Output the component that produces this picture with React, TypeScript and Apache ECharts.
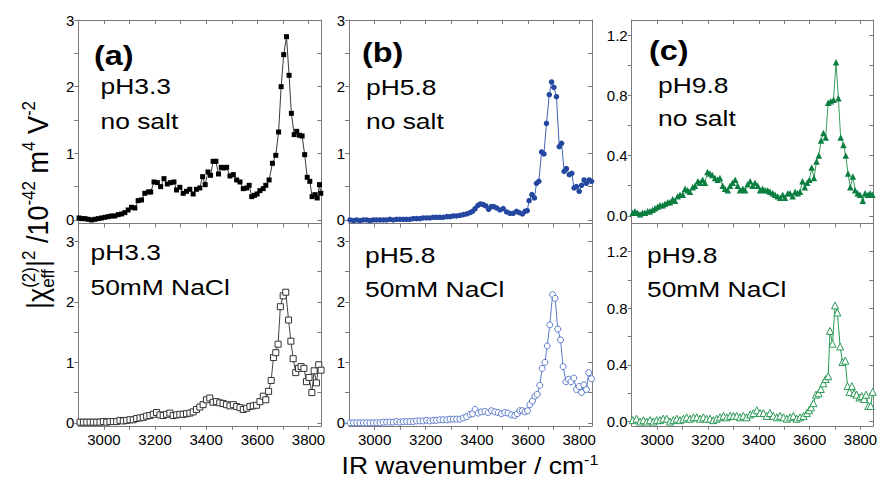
import React, { useEffect, useRef } from 'react';
import * as echarts from 'echarts';

const FONT = "'Liberation Sans', Arial, Helvetica, sans-serif";

// ---- tick values / labels ----
const X_TICKS = [3000, 3100, 3200, 3300, 3400, 3500, 3600, 3700, 3800];
const X_LABELS = [3000, 3200, 3400, 3600, 3800];
const Y_TICKS_AB = [0, 0.5, 1, 1.5, 2, 2.5, 3];
const Y_LABELS_AB = [0, 1, 2, 3];
const Y_TICKS_C = [0, 0.2, 0.4, 0.6, 0.8, 1.0, 1.2];
const Y_LABELS_C = [0, 0.4, 0.8, 1.2];

// ---- texts ----
const PANEL_TAGS = ['(a)', '(b)', '(c)'];
const PH_LABELS = ['pH3.3', 'pH5.8', 'pH9.8'];
const CONDITIONS = ['no salt', '50mM NaCl'];
const X_TITLE = 'IR wavenumber / cm';

// ---- data: (a) pH3.3 ----
const WN_A1 = [2903,2913,2926,2939,2952,2965,2978,2991,3004,3017,3030,3043,3056,3069,3082,3095,3108,3121,3134,3147,3160,3174,3183,3196,3209,3222,3235,3248,3261,3274,3284,3297,3310,3323,3336,3349,3362,3375,3386,3396,3407,3417,3427,3438,3448,3459,3469,3480,3493,3506,3519,3532,3545,3558,3568,3578,3589,3599,3610,3623,3633,3646,3659,3672,3683,3693,3703,3714,3724,3733,3744,3754,3765,3775,3785,3795,3805,3814,3825,3834,3843,3848];
const VAL_A1 = [0.03,0.02,0.02,0.01,0.00,0.01,0.02,0.03,0.04,0.05,0.06,0.06,0.08,0.09,0.11,0.15,0.19,0.18,0.29,0.30,0.40,0.42,0.42,0.57,0.56,0.50,0.62,0.54,0.56,0.57,0.45,0.49,0.40,0.43,0.46,0.39,0.46,0.48,0.65,0.53,0.72,0.67,0.88,0.88,0.69,0.79,0.78,0.79,0.66,0.68,0.60,0.57,0.47,0.48,0.52,0.35,0.37,0.39,0.44,0.47,0.52,0.60,0.85,0.97,1.32,2.00,2.48,2.75,2.17,1.60,1.28,1.33,1.27,1.26,0.98,0.64,0.58,0.35,0.38,0.33,0.53,0.40];
const WN_A2 = [2907,2920,2933,2946,2959,2972,2985,2998,3011,3024,3037,3050,3063,3076,3089,3102,3115,3128,3141,3154,3167,3180,3193,3206,3219,3232,3245,3258,3271,3284,3297,3310,3323,3336,3349,3362,3375,3388,3401,3414,3427,3440,3453,3466,3479,3493,3506,3519,3532,3545,3558,3571,3584,3597,3610,3623,3633,3644,3654,3663,3672,3681,3690,3701,3711,3722,3731,3740,3750,3761,3771,3782,3792,3802,3813,3822,3831,3840,3849];
const VAL_A2 = [0.01,0.01,0.01,0.01,0.01,0.01,0.01,0.02,0.01,0.02,0.02,0.02,0.04,0.03,0.04,0.05,0.05,0.07,0.08,0.09,0.11,0.12,0.14,0.17,0.13,0.12,0.14,0.16,0.12,0.13,0.14,0.14,0.15,0.16,0.18,0.22,0.26,0.30,0.38,0.41,0.34,0.35,0.33,0.32,0.30,0.28,0.30,0.27,0.25,0.22,0.24,0.27,0.28,0.29,0.35,0.44,0.38,0.52,0.70,1.08,1.16,1.30,1.92,2.10,2.16,1.70,1.35,1.06,0.83,0.90,0.93,0.90,0.68,0.75,0.50,0.86,0.66,0.96,0.87];

// ---- data: (b) pH5.8 ----
const WN_B1 = [2904,2917,2930,2943,2956,2969,2982,2995,3008,3021,3034,3047,3060,3073,3086,3099,3112,3125,3138,3151,3164,3177,3190,3203,3216,3229,3242,3255,3268,3282,3295,3308,3321,3334,3347,3360,3373,3383,3393,3404,3414,3425,3435,3446,3456,3466,3477,3490,3503,3516,3529,3542,3555,3565,3578,3588,3597,3604,3615,3625,3633,3642,3653,3662,3672,3683,3692,3701,3711,3722,3731,3741,3750,3761,3771,3780,3789,3800,3809,3819,3828,3839,3848];
const VAL_B1 = [0.00,-0.01,0.00,-0.01,0.00,0.00,-0.01,0.00,0.00,0.00,0.00,0.00,0.01,0.00,0.01,0.01,0.01,0.01,0.01,0.02,0.02,0.02,0.03,0.03,0.03,0.04,0.04,0.04,0.04,0.05,0.05,0.06,0.06,0.07,0.08,0.09,0.11,0.13,0.17,0.22,0.24,0.23,0.21,0.16,0.20,0.20,0.18,0.15,0.17,0.12,0.10,0.10,0.13,0.11,0.09,0.13,0.14,0.29,0.38,0.33,0.55,0.58,1.02,0.99,1.45,1.88,2.07,1.99,1.85,1.10,1.15,0.73,0.77,0.68,0.70,0.48,0.50,0.43,0.52,0.60,0.55,0.60,0.58];
const WN_B2 = [2904,2917,2930,2943,2956,2969,2982,2995,3008,3021,3034,3047,3060,3073,3086,3099,3112,3125,3138,3151,3164,3177,3190,3203,3216,3229,3242,3255,3268,3282,3295,3308,3321,3334,3347,3360,3373,3383,3393,3405,3418,3431,3444,3457,3470,3483,3496,3509,3522,3535,3548,3558,3568,3578,3588,3598,3607,3617,3627,3636,3646,3655,3666,3675,3685,3696,3706,3716,3727,3737,3748,3758,3768,3779,3789,3800,3809,3818,3828,3837,3848];
const VAL_B2 = [0,0,0,0,0,0,0,0,0,0,0.01,0.01,0.01,0.01,0.02,0.01,0.02,0.02,0.02,0.02,0.03,0.03,0.03,0.04,0.03,0.04,0.04,0.05,0.05,0.05,0.06,0.06,0.06,0.06,0.08,0.10,0.14,0.15,0.22,0.16,0.18,0.19,0.17,0.20,0.18,0.17,0.15,0.17,0.16,0.13,0.12,0.15,0.20,0.20,0.18,0.20,0.30,0.36,0.44,0.47,0.62,0.90,1.00,1.27,1.62,2.12,2.06,1.55,1.37,0.93,0.68,0.72,0.68,0.74,0.55,0.60,0.50,0.63,0.55,0.83,0.73];

// ---- data: (c) pH9.8 ----
const WN_C1 = [2904,2913,2923,2933,2943,2952,2963,2972,2982,2992,3002,3011,3022,3031,3042,3051,3061,3070,3081,3090,3101,3110,3120,3129,3140,3149,3160,3169,3179,3188,3198,3208,3217,3228,3238,3247,3258,3267,3278,3287,3297,3307,3317,3326,3337,3346,3356,3366,3376,3385,3396,3405,3415,3425,3435,3444,3455,3464,3474,3484,3494,3503,3514,3523,3533,3543,3553,3562,3572,3581,3590,3599,3608,3617,3627,3636,3645,3654,3663,3673,3683,3694,3704,3713,3722,3733,3742,3751,3760,3770,3779,3789,3798,3809,3818,3829,3838,3847];
const VAL_C1 = [0.02,0.03,0.02,0.01,0.02,0.02,0.03,0.03,0.04,0.05,0.06,0.07,0.07,0.08,0.09,0.09,0.11,0.10,0.13,0.14,0.14,0.18,0.17,0.16,0.19,0.20,0.23,0.22,0.24,0.22,0.29,0.28,0.27,0.25,0.24,0.25,0.20,0.18,0.17,0.20,0.22,0.24,0.20,0.17,0.18,0.17,0.21,0.23,0.20,0.22,0.20,0.17,0.18,0.17,0.17,0.16,0.15,0.14,0.13,0.12,0.14,0.12,0.15,0.15,0.13,0.16,0.15,0.16,0.23,0.19,0.22,0.24,0.32,0.25,0.36,0.40,0.50,0.55,0.52,0.75,0.76,0.77,1.02,0.78,0.52,0.47,0.40,0.28,0.19,0.26,0.17,0.15,0.14,0.10,0.15,0.14,0.15,0.14];
const WN_C2 = [2904,2919,2933,2946,2959,2972,2985,2998,3011,3024,3038,3051,3064,3077,3090,3103,3116,3129,3143,3156,3169,3182,3195,3208,3221,3234,3247,3261,3274,3287,3300,3313,3326,3339,3352,3366,3379,3392,3405,3418,3431,3444,3457,3471,3484,3497,3510,3523,3536,3549,3562,3576,3589,3598,3606,3615,3625,3635,3644,3654,3663,3673,3680,3690,3700,3709,3720,3729,3740,3749,3757,3766,3775,3785,3796,3805,3814,3822,3831,3840,3848];
const VAL_C2 = [0.01,0.02,0.00,0.01,0.00,0.01,0.00,0.01,0.01,0.02,0.02,0.00,0.01,0.02,0.01,0.02,0.03,0.02,0.03,0.03,0.02,0.03,0.02,0.02,0.01,0.02,0.03,0.04,0.03,0.04,0.04,0.04,0.03,0.04,0.03,0.05,0.06,0.08,0.06,0.06,0.04,0.06,0.04,0.03,0.04,0.03,0.02,0.03,0.04,0.02,0.03,0.04,0.06,0.08,0.10,0.13,0.19,0.20,0.23,0.27,0.30,0.32,0.64,0.55,0.82,0.77,0.53,0.42,0.43,0.25,0.21,0.25,0.20,0.19,0.17,0.18,0.16,0.19,0.11,0.11,0.21];

const SX = 1.2; // horizontal stretch of the original figure's text
const AXIS = '#7a7a7a';

const zip = (xs: number[], ys: number[]) => {
  const n = Math.min(xs.length, ys.length);
  const out: number[][] = [];
  for (let i = 0; i < n; i++) out.push([xs[i], ys[i]]);
  return out;
};

export default function App() {
  const ref = useRef<HTMLDivElement>(null);
  useEffect(() => {
    document.body.style.margin = '0';
    const chart = echarts.init(ref.current!, null, { renderer: 'svg' });

    const colLeft = [78.3, 349, 631.7];
    const colWidth = [243, 243, 241.5];
    const rowTop = [20, 223.3];
    const rowHeight = [203.3, 202.5];
    const yRanges = [
      [[-0.05, 3], [-0.05, 3.3]],
      [[-0.05, 3], [-0.05, 3.3]],
      [[-0.05, 1.3], [-0.03, 1.4]],
    ];
    const seriesDefs = [
      [
        { d: zip(WN_A1, VAL_A1), sym: 'rect', size: 5, fill: '#000', border: '#000', line: '#3a3a3a' },
        { d: zip(WN_A2, VAL_A2), sym: 'rect', size: 6, fill: '#fff', border: '#333', line: '#444' },
      ],
      [
        { d: zip(WN_B1, VAL_B1), sym: 'circle', size: 5.5, fill: '#2447a0', border: '#2447a0', line: '#4062b8' },
        { d: zip(WN_B2, VAL_B2), sym: 'circle', size: 6, fill: '#fff', border: '#5b7ccc', line: '#5b7ccc' },
      ],
      [
        { d: zip(WN_C1, VAL_C1), sym: 'triangle', size: 6.5, fill: '#0a7f3f', border: '#0a7f3f', line: '#3a9d60' },
        { d: zip(WN_C2, VAL_C2), sym: 'triangle', size: 7, fill: '#fff', border: '#2a9a55', line: '#2a9a55' },
      ],
    ];

    const grids: any[] = [];
    const xAxes: any[] = [];
    const yAxes: any[] = [];
    const series: any[] = [];
    const labelStyle = { color: '#000', fontSize: 15, fontFamily: FONT };

    for (let c = 0; c < 3; c++) {
      for (let r = 0; r < 2; r++) {
        const g = grids.length;
        grids.push({ left: colLeft[c], top: rowTop[r], width: colWidth[c], height: rowHeight[r], containLabel: false, outerBoundsMode: 'none' });
        const [ymin, ymax] = yRanges[c][r];
        const yTicks = c === 2 ? Y_TICKS_C : Y_TICKS_AB;
        const yLabels = c === 2 ? Y_LABELS_C : Y_LABELS_AB;
        const fmtY = (v: number) => (c === 2 ? v.toFixed(1) : String(Math.round(v)));
        const common = { gridIndex: g, type: 'value', splitLine: { show: false }, axisPointer: { show: false } };
        xAxes.push({
          ...common, min: 2900, max: 3850, position: 'bottom',
          axisLine: { show: true, onZero: false, lineStyle: { color: AXIS, width: 1 } },
          axisTick: { show: true, inside: false, length: 4, customValues: X_TICKS, lineStyle: { color: AXIS } },
          axisLabel: { show: r === 1, customValues: X_LABELS, formatter: (v: number) => String(Math.round(v)), margin: 6, ...labelStyle },
        });
        xAxes.push({
          ...common, min: 2900, max: 3850, position: 'top',
          axisLine: { show: true, onZero: false, lineStyle: { color: AXIS, width: 1 } },
          axisTick: { show: true, inside: true, length: 4, customValues: X_TICKS, lineStyle: { color: AXIS } },
          axisLabel: { show: false },
        });
        yAxes.push({
          ...common, min: ymin, max: ymax, position: 'left',
          axisLine: { show: true, onZero: false, lineStyle: { color: AXIS, width: 1 } },
          axisTick: { show: true, inside: false, length: 4, customValues: yTicks, lineStyle: { color: AXIS } },
          axisLabel: { show: true, customValues: yLabels, formatter: fmtY, margin: 4, ...labelStyle },
        });
        yAxes.push({
          ...common, min: ymin, max: ymax, position: 'right',
          axisLine: { show: true, onZero: false, lineStyle: { color: AXIS, width: 1 } },
          axisTick: { show: true, inside: true, length: 4, customValues: yTicks, lineStyle: { color: AXIS } },
          axisLabel: { show: false },
        });
        const s = seriesDefs[c][r];
        series.push({
          type: 'line', xAxisIndex: 2 * g, yAxisIndex: 2 * g, data: s.d,
          symbol: s.sym, symbolSize: s.size, showSymbol: true, clip: true, silent: true,
          lineStyle: { width: 1, color: s.line },
          itemStyle: { color: s.fill, borderColor: s.border, borderWidth: s.fill === '#fff' ? 1 : 0 },
          emphasis: { disabled: true },
        });
      }
    }

    // ---- panel texts ----
    const TXT_POS = [
      { tag: [94, 55], l1: [100.5, 86.7], l2: [100.5, 121], b1: [90.5, 252.6], b2: [90.5, 287.6] },
      { tag: [362, 52.5], l1: [366, 87.2], l2: [366, 121], b1: [365, 255.8], b2: [365, 289.2] },
      { tag: [649, 50], l1: [658, 85.8], l2: [658, 118.7], b1: [647, 255], b2: [647, 289.2] },
    ];
    const txt = (t: string, x: number, y: number, size: number, bold = false) => ({
      type: 'text', x, y, scaleX: SX, silent: true,
      style: { text: t, fontSize: size, fontWeight: bold ? 'bold' : 'normal', fontFamily: FONT, fill: '#000', align: 'left', verticalAlign: 'middle' },
    });
    const graphics: any[] = [];
    for (let c = 0; c < 3; c++) {
      const p = TXT_POS[c];
      graphics.push(txt(PANEL_TAGS[c], p.tag[0], p.tag[1], 27, true));
      graphics.push(txt(PH_LABELS[c], p.l1[0], p.l1[1], 22));
      graphics.push(txt(CONDITIONS[0], p.l2[0], p.l2[1], 22));
      graphics.push(txt(PH_LABELS[c], p.b1[0], p.b1[1], 22));
      graphics.push(txt(CONDITIONS[1], p.b2[0], p.b2[1], 22));
    }

    // ---- measuring helper ----
    const canvas = document.createElement('canvas');
    const ctx = canvas.getContext('2d')!;
    const measure = (t: string, size: number) => { ctx.font = `${size}px ${FONT}`; return ctx.measureText(t).width; };

    // ---- y title (rotated) ----
    {
      const S = 27, s = 17;
      const mainY = -0.35 * S;
      const supY = -0.42 * S - 0.35 * s;
      const subY = 0.2 * S - 0.35 * s;
      const items: { t: string; size: number; x: number; y: number }[] = [];
      let x = 0;
      const add = (t: string, size: number, y: number) => { items.push({ t, size, x, y }); x += measure(t, size); };
      add('|χ', S, mainY);
      items.push({ t: '(2)', size: s, x, y: supY });
      items.push({ t: 'eff', size: s, x, y: subY });
      x += Math.max(measure('(2)', s), measure('eff', s));
      add('|', S, mainY);
      add('2', s, supY);
      add(' /10', S, mainY);
      add('-42', s, supY);
      add(' m', S, mainY);
      add('4', s, supY);
      add(' V', S, mainY);
      add('-2', s, supY);
      const L = x;
      graphics.push({
        type: 'group', x: 48, y: 205, rotation: Math.PI / 2, scaleY: 1.1, silent: true,
        children: items.map((it) => ({
          type: 'text', x: it.x - L / 2, y: it.y,
          style: { text: it.t, fontSize: it.size, fontFamily: FONT, fill: '#000', align: 'left', verticalAlign: 'middle' },
        })),
      });
    }
    // ---- x title ----
    {
      const S = 23, s = 14;
      const w1 = measure(X_TITLE, S);
      const w2 = measure('-1', s);
      const L = w1 + w2;
      graphics.push({
        type: 'group', x: 470, y: 466, scaleX: 1.15, silent: true,
        children: [
          { type: 'text', x: -L / 2, y: 0, style: { text: X_TITLE, fontSize: S, fontFamily: FONT, fill: '#000', align: 'left', verticalAlign: 'middle' } },
          { type: 'text', x: -L / 2 + w1, y: -0.42 * S - 0.35 * s + 0.35 * S, style: { text: '-1', fontSize: s, fontFamily: FONT, fill: '#000', align: 'left', verticalAlign: 'middle' } },
        ],
      });
    }

    chart.setOption({
      animation: false,
      backgroundColor: '#fff',
      grid: grids,
      xAxis: xAxes,
      yAxis: yAxes,
      series,
      graphic: graphics,
      tooltip: { show: false },
    });
    return () => chart.dispose();
  }, []);
  return <div ref={ref} style={{ width: 881, height: 483 }} />;
}
